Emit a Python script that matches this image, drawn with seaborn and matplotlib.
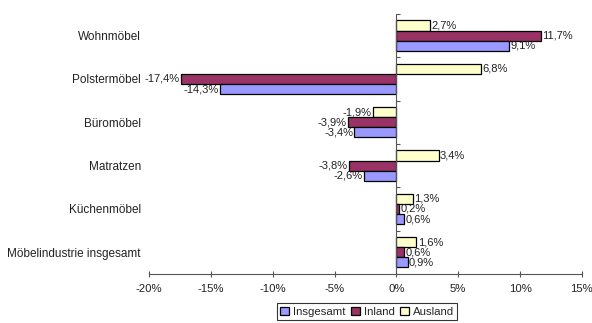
import matplotlib
matplotlib.use("Agg")
import matplotlib.pyplot as plt
import seaborn as sns
import pandas as pd
from matplotlib.patches import Patch
from matplotlib.ticker import FuncFormatter

categories = ["Wohnmöbel", "Polstermöbel", "Büromöbel", "Matratzen",
              "Küchenmöbel", "Möbelindustrie insgesamt"]
insgesamt = [9.1, -14.3, -3.4, -2.6, 0.6, 0.9]
inland = [11.7, -17.4, -3.9, -3.8, 0.2, 0.6]
ausland = [2.7, 6.8, -1.9, 3.4, 1.3, 1.6]
x_ticks = [-20, -15, -10, -5, 0, 5, 10, 15]

series_names = ["Insgesamt", "Inland", "Ausland"]
colors = {"Insgesamt": "#9999FF", "Inland": "#993366", "Ausland": "#FFFFCC"}

df = pd.concat([
    pd.DataFrame({"Kategorie": categories, "Serie": name, "Wert": vals})
    for name, vals in zip(series_names, [insgesamt, inland, ausland])
], ignore_index=True)

sns.set_theme(style="white")
plt.rcParams["font.family"] = ["Liberation Sans", "DejaVu Sans"]

fs = 8.5
txt = "#222222"
axis_col = "#555555"

fig = plt.figure(figsize=(5.92, 3.23), dpi=100)
ax = fig.add_axes([0.252, 0.152, 0.731, 0.805])

draw_order = ["Ausland", "Inland", "Insgesamt"]
sns.barplot(data=df, y="Kategorie", x="Wert", hue="Serie", hue_order=draw_order,
            order=categories, palette=colors, orient="h", errorbar=None,
            width=0.7, saturation=1, edgecolor="black", linewidth=0.9,
            legend=False, ax=ax, zorder=3)

for cont in ax.containers:
    vals = cont.datavalues
    ax.bar_label(cont, labels=[f"{v:.1f}%".replace(".", ",") for v in vals],
                 padding=1, fontsize=8, color=txt)

ax.set_xlim(-20, 15)
ax.set_ylim(len(categories) - 0.5, -0.5)
ax.set_xticks(x_ticks)
ax.xaxis.set_major_formatter(FuncFormatter(lambda v, p: f"{v:.0f}%"))
ax.tick_params(axis="x", direction="inout", length=5, width=0.8, color=axis_col,
               labelsize=8.2, labelcolor=txt, pad=5, bottom=True)
ax.tick_params(axis="y", length=0, labelsize=fs, labelcolor=txt, pad=6)
ax.set_xlabel("")
ax.set_ylabel("")
for side in ["left", "right", "top"]:
    ax.spines[side].set_visible(False)
ax.spines["bottom"].set_color(axis_col)
ax.spines["bottom"].set_linewidth(0.8)

# vertical axis through the zero line, ticks at category boundaries
ax.axvline(0, color=axis_col, linewidth=0.8, zorder=4)
zero_pos = (0 - (-20)) / (15 - (-20))
sec = ax.secondary_yaxis(zero_pos)
sec.set_yticks([i - 0.5 for i in range(len(categories) + 1)])
sec.set_yticklabels([])
sec.tick_params(axis="y", direction="out", length=3, width=0.8, color=axis_col)
for s in sec.spines.values():
    s.set_visible(False)

handles = [Patch(facecolor=colors[n], edgecolor="black", linewidth=0.9, label=n)
           for n in series_names]
leg = fig.legend(handles=handles, loc="center", bbox_to_anchor=(0.62, 0.035),
                 ncol=3, fontsize=8.2, frameon=True, fancybox=False,
                 handlelength=0.8, handleheight=0.8, handletextpad=0.3,
                 columnspacing=0.5, borderpad=0.3, borderaxespad=0)
leg.get_frame().set_edgecolor("black")
leg.get_frame().set_linewidth(0.8)

fig.savefig("out.png", dpi=100)
